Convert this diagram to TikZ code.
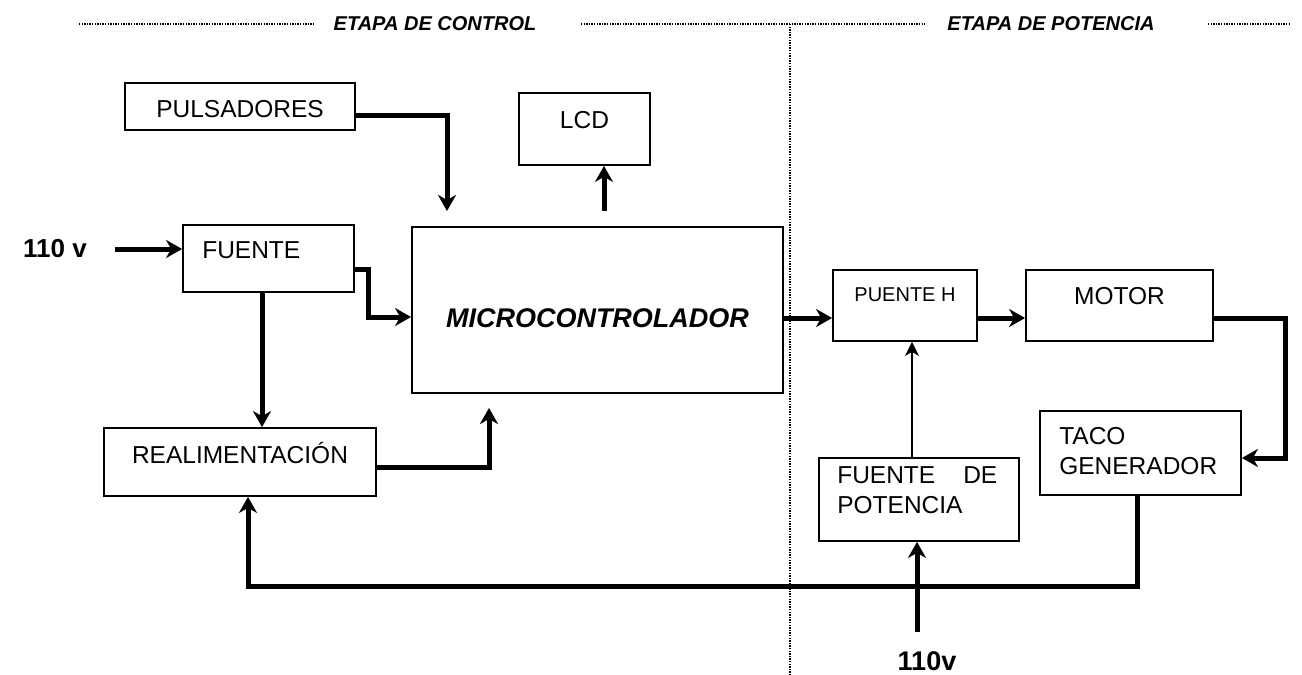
\documentclass[tikz,border=0pt]{standalone}
\usepackage{fontspec}
\setmainfont{Liberation Sans}
\usepackage{tikz}
\usetikzlibrary{arrows.meta}

\tikzset{
  bloque/.style={draw,line width=1.8pt,rectangle,inner sep=0pt},
  texto/.style={font=\fontsize{24.5}{30}\selectfont,inner sep=0pt},
  flecha/.style={line width=5pt,-{Stealth[length=16pt,width=18pt,inset=5pt]}},
  fina/.style={line width=1.6pt,-{Stealth[length=14pt,width=14pt,inset=4pt]}},
  punteado/.style={line width=1.1pt,dash pattern=on 1.3pt off 1.3pt},
  etapa/.style={font=\fontsize{20}{24}\selectfont\bfseries\itshape,inner sep=0pt}
}

\begin{document}
\begin{tikzpicture}[x=1pt,y=-1pt]
		\useasboundingbox (0,0) rectangle (1302,675);
		% headers of both stages
		\node[etapa] (etapac) at (435,24) {ETAPA DE CONTROL};
		\node[etapa] (etapap) at (1051,24) {ETAPA DE POTENCIA};
		\draw[punteado] (79,24) -- (315,24);
		\draw[punteado] (581,24) -- (925,24);
		\draw[punteado] (1208,24) -- (1290,24);
		\draw[punteado] (790,24) -- (790,675);
		
		% LEFT: control stage
		\node[bloque,minimum width=230,minimum height=47,label={[texto,yshift=-2.5pt]center:PULSADORES}] (pulsadores) at (240,106.5) {};
		\node[bloque,minimum width=131,minimum height=72,label={[texto,yshift=9pt]center:LCD}] (lcd) at (584.5,129) {};
		\node[bloque,minimum width=171,minimum height=67,label={[texto,anchor=west,xshift=20pt,yshift=8.5pt]west:FUENTE}] (fuente) at (268.5,258.5) {};
		\node[bloque,minimum width=371,minimum height=166,label={[texto,font=\fontsize{27}{30}\selectfont\bfseries\itshape,yshift=-8pt]center:MICROCONTROLADOR}] (micro) at (597.5,310) {};
		\node[bloque,minimum width=272,minimum height=68,label={[texto,yshift=9pt]center:REALIMENTACIÓN}] (realim) at (240,462) {};
		\node[texto,font=\fontsize{26}{30}\selectfont\bfseries] (v110a) at (55,249) {110 v};
		
		% RIGHT: power stage
		\node[bloque,minimum width=144,minimum height=71,label={[texto,font=\fontsize{20}{24}\selectfont,yshift=11pt]center:PUENTE H}] (puente) at (905,305.5) {};
		\node[bloque,minimum width=187,minimum height=71,label={[texto,yshift=9.5pt]center:MOTOR}] (motor) at (1119.5,305.5) {};
		\node[bloque,minimum width=201,minimum height=84,label={[texto,align=left,anchor=west,xshift=20pt,yshift=2pt]west:TACO\\GENERADOR}] (taco) at (1140.5,453) {};
		\node[bloque,minimum width=200,minimum height=83,label={[texto,align=left,text width=160pt,anchor=west,xshift=19pt,yshift=9pt]west:FUENTE\hfill DE\\POTENCIA}] (fpot) at (919,499.5) {};
		\node[texto,font=\fontsize{27}{30}\selectfont\bfseries] (v110b) at (927,661) {110v};
		
		% free ends of the arrows
		\coordinate (pm) at (447,211);
		\coordinate (lm) at (604,211);
		\coordinate (rm) at (489,408);
		\coordinate (ent) at (917,632);
		
		% connections
		\draw[flecha] ([xshift=28pt]v110a.east) -- (v110a -| fuente.west);
		\draw[flecha] ([yshift=-8.5pt]pulsadores.east) -| (pm);
		\draw[flecha] (lm) -- (lm |- lcd.south);
		\draw[flecha] ([yshift=-10.5pt]fuente.east) -- ++(14,0) |- ([yshift=-7pt]micro.west);
		\draw[flecha] ([xshift=-6.5pt]fuente.south) -- ([xshift=-6.5pt]fuente.south |- realim.north);
		\draw[flecha] ([yshift=-5pt]realim.east) -| (rm);
		\draw[flecha] ([yshift=-8pt]micro.east) -- ([yshift=-8pt]micro.east -| puente.west);
		\draw[flecha] ([yshift=-12.5pt]puente.east) -- ([yshift=-12.5pt]motor.west);
		\draw[flecha] ([yshift=-12.5pt]motor.east) -- ++(72,0) |- ([yshift=-5pt]taco.east);
		\draw[flecha] ([xshift=-3.5pt]taco.south) -- ++(0,91) -| ([xshift=8pt]realim.south);
		\draw[fina] ([xshift=-7pt]fpot.north) -- ([xshift=-7pt]fpot.north |- puente.south);
		\draw[flecha] (ent) -- (ent |- fpot.south);
	\end{tikzpicture}
\end{document}
